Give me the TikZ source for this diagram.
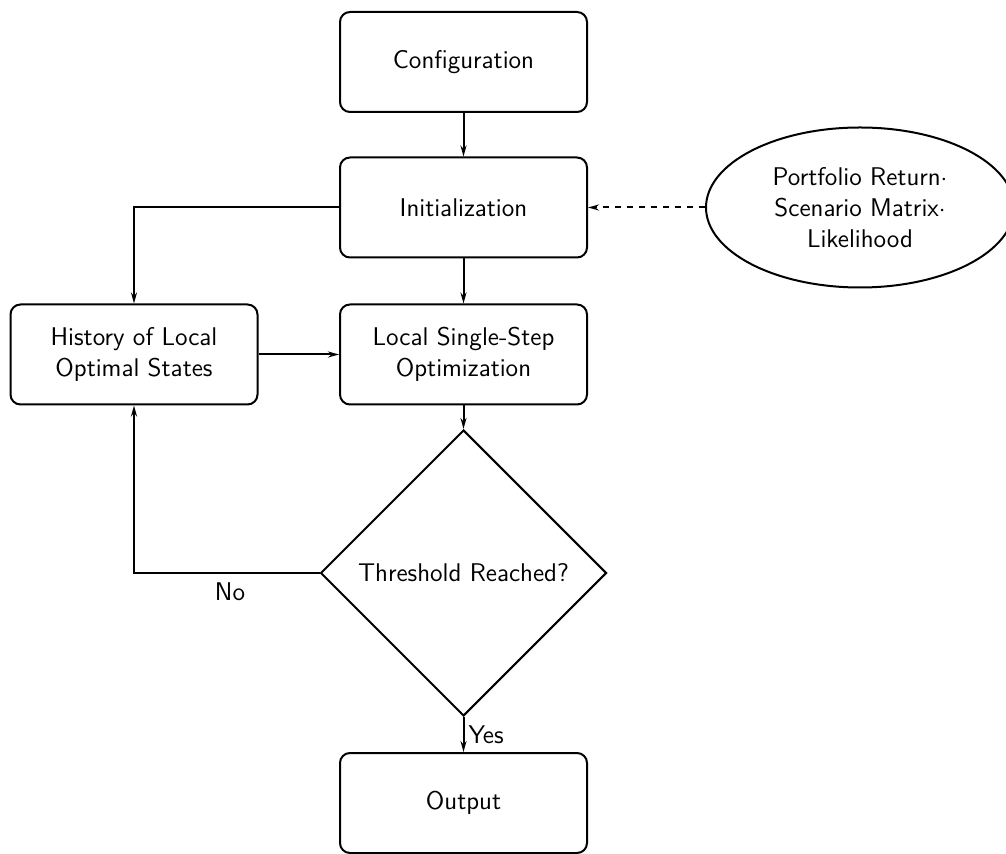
\documentclass[tikz,border=0pt]{standalone}
\usetikzlibrary{shapes.geometric,arrows.meta}
\begin{document}
\begin{tikzpicture}[x=0.5pt,y=-0.5pt,
  font=\sffamily\fontsize{12.8}{15.5}\selectfont,
  every path/.style={line width=1pt},
  procbox/.style={draw,rounded corners=5pt,minimum width=123.5pt,minimum height=50pt,align=center,inner sep=2pt},
  decbox/.style={draw,diamond,aspect=1,minimum width=143pt,minimum height=143pt,inner sep=0pt,align=center},
  databox/.style={draw,ellipse,minimum width=154pt,minimum height=80pt,align=center,inner sep=0pt},
  arr/.style={-{Stealth[length=5.5pt,width=3pt]}},
  lbl/.style={inner sep=2pt}]
\useasboundingbox (0,0) rectangle (1006,854);
\node[procbox] (conf) at (463.5,62) {Configuration};
\node[procbox] (init) at (463.5,207.5) {Initialization};
\node[procbox] (local) at (463.5,354.5) {Local Single-Step\\Optimization};
\node[procbox] (hist) at (134,354.5) {History of Local\\Optimal States};
\node[decbox] (dec) at (463.5,573) {Threshold Reached?};
\node[procbox] (out) at (463.5,803) {Output};
\node[databox] (data) at (860,207.5) {Portfolio Return{$\cdot$}\\Scenario Matrix{$\cdot$}\\Likelihood};
\coordinate (c1) at (134,207.5);
\coordinate (c2) at (134,573);
\draw[arr] (conf) -- (init);
\draw[arr] (init) -- (local);
\draw[arr] (init.west) -- (c1) -- (hist.north);
\draw[arr] (hist) -- (local);
\draw[arr] (local) -- (dec);
\draw[arr] (dec.west) -- (c2) -- (hist.south);
\node[lbl] (no) at (230,592) {No};
\draw[arr] (dec.south) -- (out.north) node[midway,right,lbl] (yes) {Yes};
\draw[arr,dashed] (data.west) -- (init.east);
\end{tikzpicture}
\end{document}
